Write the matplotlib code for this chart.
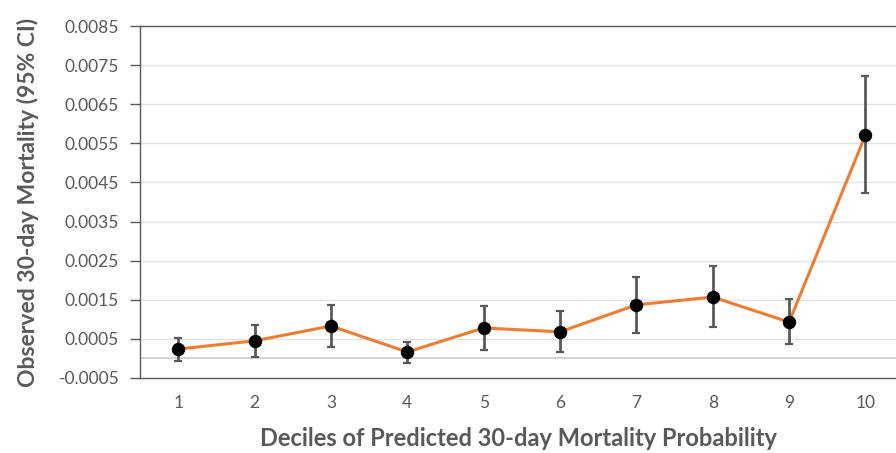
import matplotlib
matplotlib.use("Agg")
import matplotlib.pyplot as plt
import numpy as np

deciles = [1, 2, 3, 4, 5, 6, 7, 8, 9, 10]
observed = [0.00024, 0.00045, 0.00083, 0.000165, 0.00078, 0.00068, 0.00137, 0.00157, 0.00093, 0.00571]
ci_upper = [0.00052, 0.00086, 0.00137, 0.00042, 0.00134, 0.00121, 0.00208, 0.00236, 0.00152, 0.00722]
ci_lower = [-0.000065, 0.000037, 0.00029, -0.00012, 0.00022, 0.00017, 0.00065, 0.00080, 0.00037, 0.00423]
yticks = [-0.0005, 0.0005, 0.0015, 0.0025, 0.0035, 0.0045, 0.0055, 0.0065, 0.0075, 0.0085]
ytick_labels = ["-0.0005", "0.0005", "0.0015", "0.0025", "0.0035", "0.0045", "0.0055", "0.0065", "0.0075", "0.0085"]
xlabel = "Deciles of Predicted 30-day Mortality Probability"
ylabel = "Observed 30-day Mortality (95% CI)"

plt.rcParams['font.family'] = ['Lato', 'DejaVu Sans']
text_gray = "#595959"

fig = plt.figure(figsize=(8.96, 4.53), dpi=100)
ax = fig.add_axes([140/896, 1-378/453, 1-140/896, (378-26)/453])

obs = np.array(observed)
yerr = np.vstack([obs - np.array(ci_lower), np.array(ci_upper) - obs])

for t in yticks[1:-1]:
    ax.axhline(t, color="#e3e3e3", lw=1.0, zorder=0)
ax.axhline(0, color="#d4d4d4", lw=1.4, zorder=0)

ax.plot(deciles, observed, color="#ED7D31", lw=2.2, zorder=2)
ax.errorbar(deciles, observed, yerr=yerr, fmt="none", ecolor="#595959",
            elinewidth=2.0, capsize=3, capthick=1.6, zorder=3)
ax.scatter(deciles, observed, s=75, color="black", zorder=4)

ax.set_xlim(0.5, 10.4)
ax.set_ylim(-0.0005, 0.0085)
ax.set_yticks(yticks)
ax.set_yticklabels(ytick_labels)
ax.set_xticks(deciles)
ax.set_xticklabels([str(d) for d in deciles])

ax.tick_params(axis="y", direction="out", length=7, width=1, color="#595959",
               labelsize=12.5, labelcolor=text_gray, pad=8)
ax.tick_params(axis="x", length=0, labelsize=12.5, labelcolor=text_gray, pad=12)

for side in ["left", "bottom", "top"]:
    ax.spines[side].set_color("#595959")
    ax.spines[side].set_linewidth(1.0)
ax.spines["right"].set_visible(False)

ax.set_xlabel(xlabel, fontsize=17, fontweight="bold", color=text_gray, labelpad=12)
ax.set_ylabel(ylabel, fontsize=16.5, fontweight="bold", color=text_gray, labelpad=14)

fig.savefig("out.png", dpi=100)
